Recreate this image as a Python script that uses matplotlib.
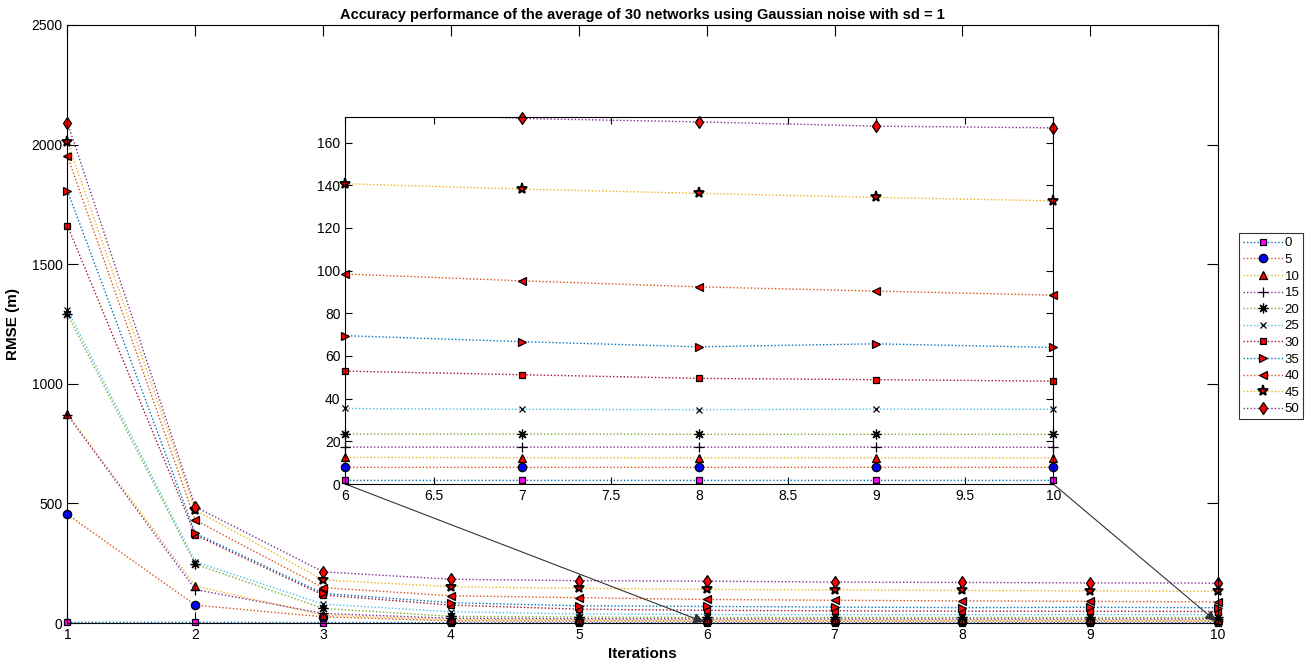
import matplotlib
matplotlib.use("Agg")
import matplotlib.pyplot as plt


# Werte
ITERATIONS = [1, 2, 3, 4, 5, 6, 7, 8, 9, 10]
NOISE_LEVELS = ["0", "5", "10", "15", "20", "25", "30", "35", "40", "45", "50"]

rmse_0 = [3, 3, 2, 2, 1.7, 1.7, 1.7, 1.7, 1.7, 1.7]
rmse_5 = [454, 75, 26, 9, 8, 7.8, 7.8, 7.8, 7.8, 7.8]
rmse_10 = [874, 155, 33, 14, 13, 12.5, 12.3, 12.3, 12.3, 12.2]
rmse_15 = [870, 140, 40, 20, 18, 17.3, 17.3, 17.3, 17.3, 17.2]
rmse_20 = [1290, 246, 61, 28, 25, 23.4, 23.4, 23.3, 23.3, 23.3]
rmse_25 = [1310, 256, 79, 47, 38, 35.4, 35.0, 34.8, 35.1, 35.0]
rmse_30 = [1661, 368, 117, 75, 58, 52.9, 51.2, 49.5, 48.9, 48.2]
rmse_35 = [1807, 375, 124, 85, 72, 69.5, 66.7, 64.3, 65.7, 64.0]
rmse_40 = [1952, 430, 148, 114, 106, 98.4, 95.2, 92.4, 90.4, 88.5]
rmse_45 = [2012, 472, 180, 152, 145, 140.7, 138.2, 136.2, 134.3, 132.7]
rmse_50 = [2092, 486, 214, 183, 177, 175.0, 171.3, 169.7, 167.7, 166.9]

ALL_RMSE = [rmse_0, rmse_5, rmse_10, rmse_15, rmse_20, rmse_25,
            rmse_30, rmse_35, rmse_40, rmse_45, rmse_50]

# MATLAB default colour order
LINE_COLORS = ["#0072BD", "#D95319", "#EDB120", "#7E2F8E", "#77AC30",
               "#4DBEEE", "#A2142F", "#0072BD", "#D95319", "#EDB120", "#7E2F8E"]

ASTERISK = (8, 2, 0)

# marker, face colour, size, edge width
MARKERS = [
    ("s", "#FF00FF", 4, 0.9),
    ("o", "#0000FF", 6, 0.9),
    ("^", "#FF0000", 6, 0.9),
    ("+", "black", 7, 0.9),
    (ASTERISK, "black", 7, 0.9),
    ("x", "black", 4, 0.9),
    ("s", "#FF0000", 5, 0.9),
    (">", "#FF0000", 6, 0.9),
    ("<", "#FF0000", 6, 0.9),
    ("*", "#FF0000", 8, 1.3),
    ("d", "#FF0000", 6, 0.9),
]

TITLE = "Accuracy performance of the average of 30 networks using Gaussian noise with sd = 1"

INSET_X = (6, 10)
INSET_Y = (0, 172)


def style_axes(ax, tick_len):
    for spine in ax.spines.values():
        spine.set_linewidth(0.8)
        spine.set_color("black")
    ax.tick_params(direction="in", length=tick_len, width=0.8,
                   top=True, right=True, labelsize=10, colors="black")


def marker_kw(i):
    marker, face, size, edge = MARKERS[i]
    return dict(marker=marker, markersize=size, markerfacecolor=face,
                markeredgecolor="black", markeredgewidth=edge)


def line_kw(i):
    return dict(linestyle=(0, (1, 1.5)), linewidth=1.0, color=LINE_COLORS[i])


def draw_main(ax):
    handles = []
    for i, values in enumerate(ALL_RMSE):
        (line,) = ax.plot(ITERATIONS, values, label=NOISE_LEVELS[i],
                          clip_on=False, **line_kw(i), **marker_kw(i))
        handles.append(line)
    return handles


def draw_inset(ax):
    # Linien werden abgeschnitten, Marker wie in MATLAB ganz gezeichnet
    for i, values in enumerate(ALL_RMSE):
        ax.plot(ITERATIONS, values, **line_kw(i))
        pts = [(x, y) for x, y in zip(ITERATIONS, values)
               if INSET_X[0] <= x <= INSET_X[1] and INSET_Y[0] <= y <= INSET_Y[1]]
        if pts:
            xs, ys = zip(*pts)
            ax.plot(xs, ys, linestyle="none", clip_on=False, **marker_kw(i))


def main():
    plt.rcParams["font.family"] = ["Liberation Sans", "DejaVu Sans"]

    fig = plt.figure(figsize=(13.12, 6.70), dpi=100)
    ax = fig.add_axes([0.0514, 0.0701, 0.877, 0.8926])

    handles = draw_main(ax)
    ax.set_xlim(1, 10)
    ax.set_ylim(0, 2500)
    ax.set_xticks(range(1, 11))
    ax.set_yticks(range(0, 2501, 500))
    style_axes(ax, 8)
    ax.set_title(TITLE, fontsize=10.5, fontweight="bold", pad=4)
    ax.set_xlabel("Iterations", fontsize=11, fontweight="bold", labelpad=4)
    ax.set_ylabel("RMSE (m)", fontsize=11, fontweight="bold", labelpad=8)

    # Vergroesserung der Iterationen 6 bis 10
    inset = fig.add_axes([0.2632, 0.2776, 0.5396, 0.5478])
    draw_inset(inset)
    inset.set_xlim(*INSET_X)
    inset.set_ylim(*INSET_Y)
    inset.set_xticks([6, 6.5, 7, 7.5, 8, 8.5, 9, 9.5, 10])
    inset.set_xticklabels(["6", "6.5", "7", "7.5", "8", "8.5", "9", "9.5", "10"])
    inset.set_yticks(range(0, 161, 20))
    style_axes(inset, 5)

    arrow_style = dict(arrowstyle="-|>", color="#333333", lw=0.8,
                       mutation_scale=16, shrinkA=0, shrinkB=2)
    ax.annotate("", xy=(6, 0), xycoords="data", xytext=(0, 0),
                textcoords=inset.transAxes, arrowprops=arrow_style,
                annotation_clip=False)
    ax.annotate("", xy=(10, 0), xycoords="data", xytext=(1, 0),
                textcoords=inset.transAxes, arrowprops=arrow_style,
                annotation_clip=False)

    leg = fig.legend(
        handles=handles, loc="center left", bbox_to_anchor=(0.9444, 0.513),
        fontsize=9.5, frameon=True, fancybox=False, edgecolor="black",
        handlelength=3.0, handletextpad=0.15, labelspacing=0.33,
        borderpad=0.3, borderaxespad=0,
    )
    leg.get_frame().set_linewidth(0.8)

    fig.savefig("out.png", dpi=100)
    plt.close(fig)


if __name__ == "__main__":
    main()
